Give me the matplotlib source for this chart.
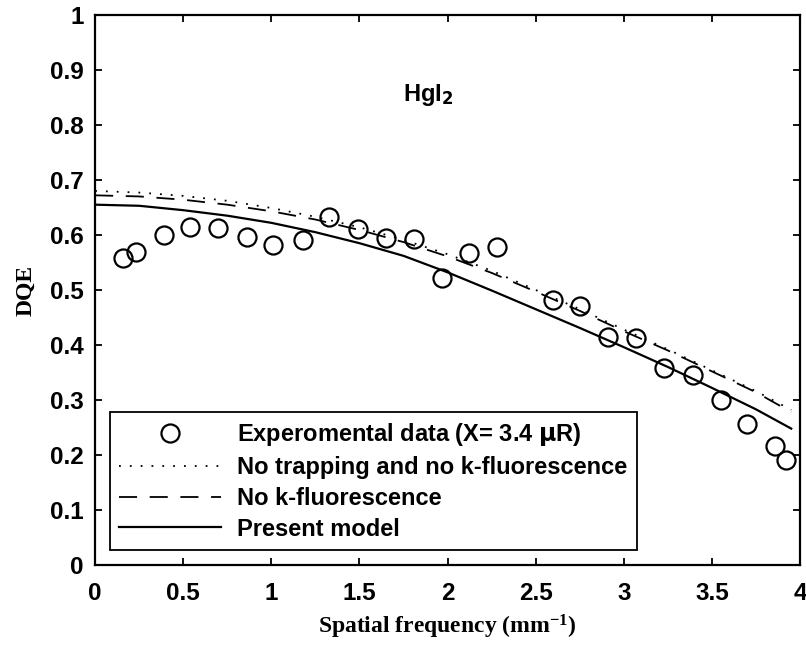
import matplotlib
matplotlib.use("Agg")
import matplotlib.pyplot as plt

# measured points
freq_exp = [0.16, 0.23, 0.39, 0.54, 0.70, 0.86, 1.01, 1.18, 1.33, 1.49, 1.65, 1.81,
            1.97, 2.12, 2.28, 2.60, 2.75, 2.91, 3.07, 3.23, 3.39, 3.55, 3.70, 3.86, 3.92]
dqe_exp = [0.558, 0.569, 0.600, 0.615, 0.613, 0.596, 0.582, 0.591, 0.633, 0.611, 0.595, 0.593,
           0.522, 0.567, 0.578, 0.482, 0.471, 0.415, 0.413, 0.358, 0.345, 0.300, 0.256, 0.216, 0.191]

# model curves
freq_model = [0.0, 0.25, 0.5, 0.75, 1.0, 1.25, 1.5, 1.75, 2.0, 2.25, 2.5, 2.75, 3.0, 3.25, 3.5, 3.75, 3.95]
dqe_no_trap = [0.680, 0.677, 0.671, 0.662, 0.649, 0.633, 0.614, 0.591, 0.565, 0.535, 0.500, 0.465,
               0.428, 0.392, 0.354, 0.316, 0.282]
dqe_no_kfl = [0.672, 0.670, 0.664, 0.655, 0.643, 0.628, 0.609, 0.587, 0.561, 0.531, 0.497, 0.462,
              0.425, 0.390, 0.352, 0.314, 0.278]
dqe_model = [0.655, 0.653, 0.645, 0.635, 0.622, 0.605, 0.585, 0.562, 0.532, 0.499, 0.465, 0.431,
             0.396, 0.360, 0.322, 0.283, 0.248]

x_ticks = [0, 0.5, 1, 1.5, 2, 2.5, 3, 3.5, 4]
x_tick_labels = ["0", "0.5", "1", "1.5", "2", "2.5", "3", "3.5", "4"]
y_ticks = [0, 0.1, 0.2, 0.3, 0.4, 0.5, 0.6, 0.7, 0.8, 0.9, 1]
y_tick_labels = ["0", "0.1", "0.2", "0.3", "0.4", "0.5", "0.6", "0.7", "0.8", "0.9", "1"]

sans = "Liberation Sans"
serif = "Liberation Serif"
plt.rcParams["mathtext.default"] = "regular"

fig = plt.figure(figsize=(8.06, 6.47), dpi=100)
ax = fig.add_axes([0.118, 0.1267, 0.8746, 0.8503])

ax.plot(freq_exp, dqe_exp, "o", mfc="none", mec="black", ms=13, mew=1.6,
        label=r"Experomental data (X= 3.4 $\mathbf{\mu}$R)")
ax.plot(freq_model, dqe_no_trap, color="black", lw=1.3, linestyle=(0, (1, 5)),
        label="No trapping and no k-fluorescence")
ax.plot(freq_model, dqe_no_kfl, color="black", lw=1.3, linestyle=(0, (10, 7)),
        label="No k-fluorescence")
ax.plot(freq_model, dqe_model, color="black", lw=1.6, label="Present model")

ax.set_xlim(0, 4)
ax.set_ylim(0, 1)
ax.set_xticks(x_ticks)
ax.set_xticklabels(x_tick_labels, fontfamily=sans, fontweight="bold", fontsize=17.5)
ax.set_yticks(y_ticks)
ax.set_yticklabels(y_tick_labels, fontfamily=sans, fontweight="bold", fontsize=17.5)
ax.tick_params(direction="in", length=5, width=1.3, top=True, right=True)
ax.tick_params(axis="x", pad=12)
ax.tick_params(axis="y", pad=8)
for s in ax.spines.values():
    s.set_linewidth(1.6)

ax.set_xlabel(r"Spatial frequency (mm$^{\mathregular{-1}}$)", fontfamily=serif, fontsize=17,
              fontweight="bold", labelpad=6)
ax.set_ylabel("DQE", fontfamily=serif, fontsize=17, fontweight="bold", labelpad=10)

ax.text(1.89, 0.855, r"HgI$_\mathbf{2}$", fontfamily=sans, fontweight="bold", fontsize=17,
        ha="center", va="center")

leg = ax.legend(loc="lower left", bbox_to_anchor=(0.021, 0.027), fancybox=False,
                edgecolor="black", framealpha=1, borderaxespad=0,
                prop={"family": sans, "weight": "bold", "size": 17},
                handlelength=4.3, labelspacing=0.33, handletextpad=0.7, borderpad=0.4)
leg.get_frame().set_linewidth(1.3)

fig.savefig("out.png", dpi=100)
